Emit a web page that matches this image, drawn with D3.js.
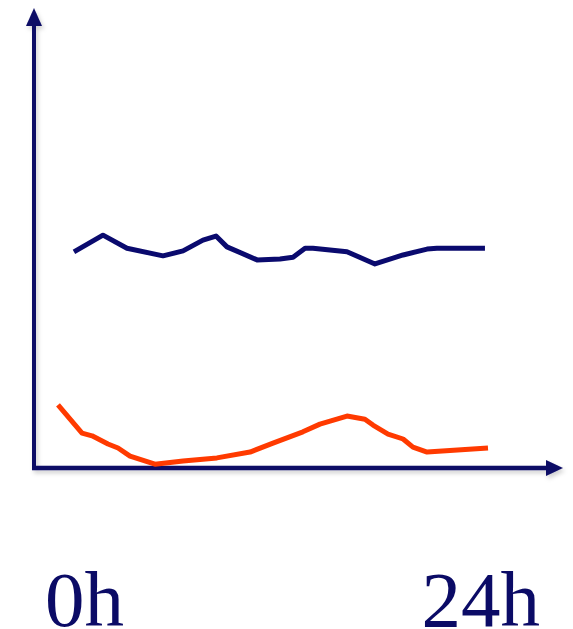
<!DOCTYPE html>
<html>
<head>
<meta charset="utf-8">
<script src="https://cdn.jsdelivr.net/npm/d3@7"></script>
<style>
  html, body { margin: 0; padding: 0; background: #ffffff; }
  svg { display: block; }
</style>
</head>
<body>
<svg id="chart" width="573" height="629"></svg>
<script>
// Hours of the day (x) and relative level (y, 0-100)
const blueHours  = [0.89, 2.51, 3.85, 5.86, 6.98, 8.09, 8.82, 9.43, 11.11, 12.39, 13.12, 13.79, 14.23, 16.13, 17.69, 19.26, 20.6, 21.15, 23.83];
const blueValues = [47.6, 51.3, 48.4, 46.7, 47.8, 50.2, 51.1, 48.7, 45.8, 46.0, 46.4, 48.4, 48.4, 47.6, 44.9, 46.9, 48.2, 48.4, 48.4];

const redHours  = [0, 1.34, 1.90, 2.79, 3.35, 4.02, 5.41, 6.98, 8.87, 10.72, 12.0, 13.67, 14.62, 16.13, 17.13, 17.58, 18.42, 19.26, 19.81, 20.6, 24];
const redValues = [13.6, 7.3, 6.7, 4.9, 4.0, 2.2, 0.4, 1.1, 1.8, 3.1, 5.1, 7.6, 9.3, 11.1, 10.4, 9.1, 7.1, 6.0, 4.2, 3.1, 4.0];

const tickLabels = ["0h", "24h"];

const svg = d3.select("#chart");
const navy = "#0b0b66";

const x = d3.scaleLinear().domain([0, 24]).range([58, 488]);
const y = d3.scaleLinear().domain([0, 100]).range([466, 16]);

// shadow filter for axes
const defs = svg.append("defs");
const f = defs.append("filter").attr("id", "sh").attr("x", "-20%").attr("y", "-20%").attr("width", "140%").attr("height", "140%");
f.append("feDropShadow").attr("dx", 2).attr("dy", 3).attr("stdDeviation", 2)
  .attr("flood-color", "#000").attr("flood-opacity", 0.18);

// Axes with arrowheads
const axes = svg.append("g").attr("filter", "url(#sh)");
const ax0 = 34, ay0 = 468;
axes.append("line").attr("x1", ax0).attr("y1", ay0 + 2).attr("x2", ax0).attr("y2", 22)
  .attr("stroke", navy).attr("stroke-width", 4);
axes.append("path").attr("d", `M${ax0},8 L${ax0 - 8},26 L${ax0 + 8},26 Z`).attr("fill", navy);
axes.append("line").attr("x1", ax0 - 2).attr("y1", ay0).attr("x2", 550).attr("y2", ay0)
  .attr("stroke", navy).attr("stroke-width", 4.5);
axes.append("path").attr("d", `M563,${ay0} L546,${ay0 - 8} L546,${ay0 + 8} Z`).attr("fill", navy);

const line = d3.line().x(d => x(d[0])).y(d => y(d[1])).curve(d3.curveLinear);

svg.append("path")
  .datum(blueHours.map((h, i) => [h, blueValues[i]]))
  .attr("d", line)
  .attr("fill", "none").attr("stroke", "#0a0a6e").attr("stroke-width", 5)
  .attr("stroke-linejoin", "round").attr("stroke-linecap", "butt");

svg.append("path")
  .datum(redHours.map((h, i) => [h, redValues[i]]))
  .attr("d", line)
  .attr("fill", "none").attr("stroke", "#ff3a00").attr("stroke-width", 5)
  .attr("stroke-linejoin", "round").attr("stroke-linecap", "butt");

// Labels
svg.append("text").text(tickLabels[0])
  .attr("x", 45).attr("y", 626)
  .attr("font-family", "'Liberation Serif', 'Times New Roman', serif")
  .attr("font-size", 79).attr("fill", navy);
svg.append("text").text(tickLabels[1])
  .attr("x", 540).attr("y", 626).attr("text-anchor", "end")
  .attr("font-family", "'Liberation Serif', 'Times New Roman', serif")
  .attr("font-size", 79).attr("fill", navy);
</script>
</body>
</html>
